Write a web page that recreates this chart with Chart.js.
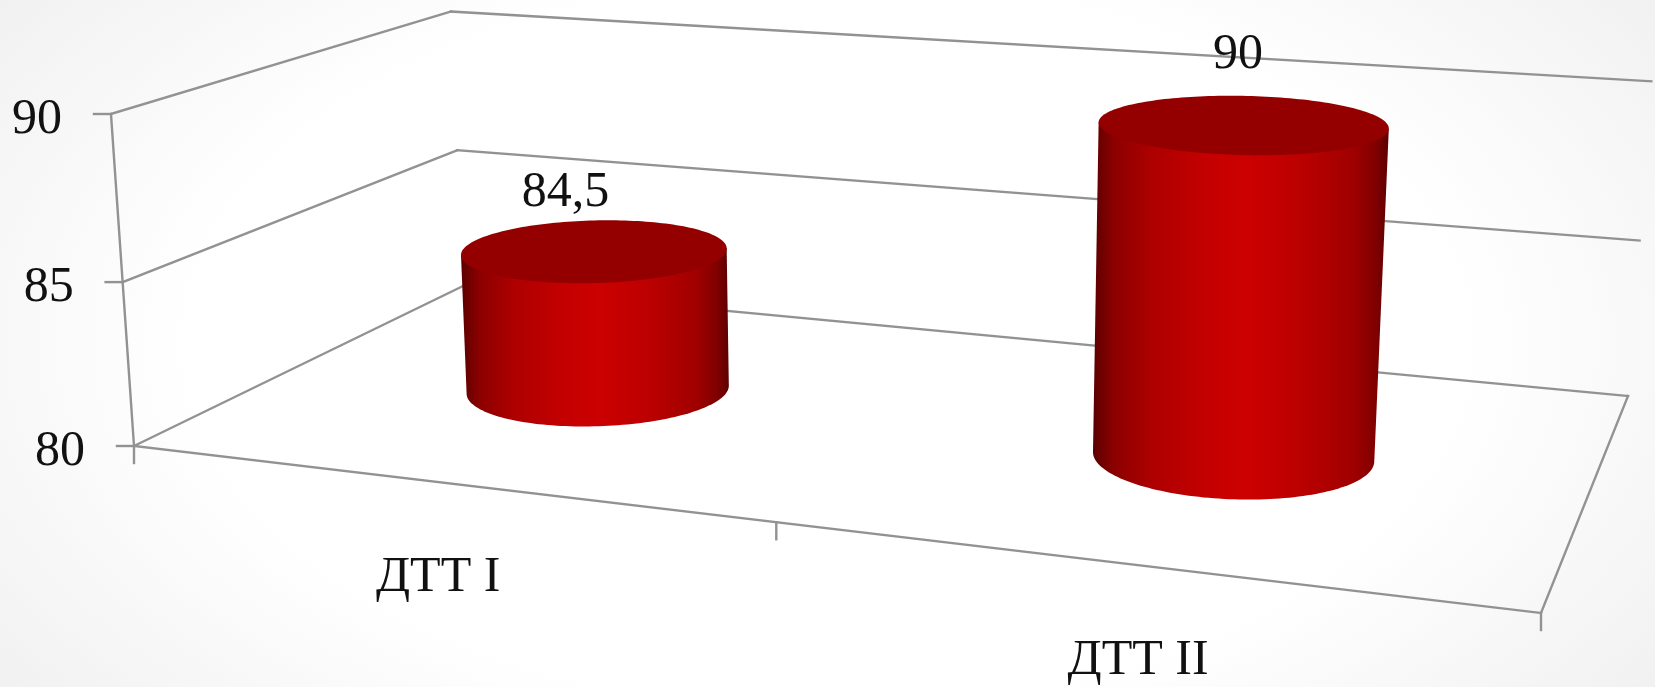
<!DOCTYPE html>
<html>
<head>
<meta charset="utf-8">
<title>ДТТ</title>
<style>
  html, body { margin: 0; padding: 0; }
  body {
    width: 1655px;
    height: 687px;
    overflow: hidden;
    background: radial-gradient(ellipse 62% 85% at 50% 50%, #ffffff 62%, #f1f1f1 100%);
  }
  #wrap { position: relative; width: 1655px; height: 687px; }
</style>
</head>
<body>
<div id="wrap"><canvas id="chart"></canvas></div>
<script src="https://cdn.jsdelivr.net/npm/chart.js@4"></script>
<script>
const categories = ['ДТТ I', 'ДТТ II'];
const values = [84.5, 90];
const yTicks = [80, 85, 90];

const LINE = '#929292';
const FONT = "50px 'Liberation Serif', serif";

// floor of the 3D box in canvas pixels: front-left, front-right, back-right, back-left
const floor = [[134, 446], [1541, 613], [1628, 396], [463, 286]];
// how a unit of height moves a homogeneous point, plus small corrections for the right side
const lift = [-25.8, -334.85, -0.025];
const farSkew = [9, -3];
const nearSkew = [4, 10];

function floorMatrix(q) {
  const [[x0, y0], [x1, y1], [x2, y2], [x3, y3]] = q;
  const sx = x0 - x1 + x2 - x3, sy = y0 - y1 + y2 - y3;
  const dx1 = x1 - x2, dx2 = x3 - x2, dy1 = y1 - y2, dy2 = y3 - y2;
  const den = dx1 * dy2 - dx2 * dy1;
  const g = (sx * dy2 - dx2 * sy) / den;
  const h = (dx1 * sy - sx * dy1) / den;
  return {
    a: x1 - x0 + g * x1, b: x3 - x0 + h * x3, c: x0,
    d: y1 - y0 + g * y1, e: y3 - y0 + h * y3, f: y0,
    g, h,
  };
}
const M = floorMatrix(floor);

// u along the categories, v into the depth, z up the value axis (all 0..1)
function project(u, v, z) {
  const X = M.a * u + M.b * v + M.c + lift[0] * z;
  const Y = M.d * u + M.e * v + M.f + lift[1] * z;
  const W = M.g * u + M.h * v + 1 + lift[2] * z;
  const far = z * u * v, near = z * u * (1 - v);
  return [
    X / W + farSkew[0] * far + nearSkew[0] * near,
    Y / W + farSkew[1] * far + nearSkew[1] * near,
  ];
}

function line(ctx, a, b) {
  ctx.beginPath();
  ctx.moveTo(a[0], a[1]);
  ctx.lineTo(b[0], b[1]);
  ctx.stroke();
}

const box3d = {
  id: 'box3d',
  beforeDatasetsDraw(chart) {
    const { ctx, scales: { x, y }, chartArea: area } = chart;
    ctx.save();
    ctx.strokeStyle = LINE;
    ctx.lineWidth = 2.4;
    ctx.lineCap = 'square';

    // walls and value ticks
    y.ticks.forEach(t => {
      const z = (area.bottom - y.getPixelForValue(t.value)) / area.height;
      const front = project(0, 0, z), back = project(0, 1, z), far = project(1, 1, z);
      line(ctx, front, back);
      line(ctx, back, far);
      line(ctx, [front[0] - 17, front[1]], front);
      ctx.fillStyle = '#111';
      ctx.font = FONT;
      ctx.textAlign = 'right';
      ctx.textBaseline = 'alphabetic';
      ctx.fillText(String(t.value), front[0] - 49, front[1] + 19);
    });
    line(ctx, project(0, 0, 0), project(0, 0, 1));

    // floor edges and category ticks
    line(ctx, project(0, 0, 0), project(1, 0, 0));
    line(ctx, project(1, 0, 0), project(1, 1, 0));
    [0, 0.4975, 1].forEach(u => {
      const p = project(u, 0, 0);
      line(ctx, p, [p[0], p[1] + 17]);
    });

    x.ticks.forEach((t, i) => {
      const u = (x.getPixelForTick(i) - area.left) / area.width;
      const p = project(u, 0, 0);
      ctx.fillStyle = '#111';
      ctx.font = FONT;
      ctx.textAlign = 'center';
      ctx.textBaseline = 'alphabetic';
      ctx.fillText(categories[t.value], p[0] - 6, p[1] + 108);
    });
    ctx.restore();
  },
  afterDatasetsDraw(chart, args, opts) {
    const { ctx, chartArea: area } = chart;
    const meta = chart.getDatasetMeta(0);
    meta.data.forEach((bar, i) => {
      const u = (bar.x - area.left) / area.width - 0.001;
      const z = (area.bottom - bar.y) / area.height;
      const ru = bar.width / area.width / 2;
      drawCylinder(ctx, u, 0.5, ru, ru * opts.depth, z);

      const top = project(u, 0.5, z);
      const nudge = opts.labelNudge[i];
      ctx.save();
      ctx.fillStyle = '#111';
      ctx.font = FONT;
      ctx.textAlign = 'center';
      ctx.textBaseline = 'alphabetic';
      ctx.fillText(String(values[i]).replace('.', ','), top[0] + nudge[0], top[1] + nudge[1]);
      ctx.restore();
    });
  },
};

function ring(u, v, ru, rv, z) {
  const pts = [];
  for (let i = 0; i < 180; i++) {
    const t = i / 180 * Math.PI * 2;
    pts.push(project(u + ru * Math.cos(t), v + rv * Math.sin(t), z));
  }
  return pts;
}

function drawCylinder(ctx, u, v, ru, rv, z) {
  const top = ring(u, v, ru, rv, z);
  const bottom = ring(u, v, ru, rv, 0);
  const edge = pts => {
    let min = 0, max = 0;
    pts.forEach((p, i) => {
      if (p[0] < pts[min][0]) min = i;
      if (p[0] > pts[max][0]) max = i;
    });
    return [min, max];
  };
  const [tl, tr] = edge(top);
  const [bl, br] = edge(bottom);

  const left = Math.min(top[tl][0], bottom[bl][0]);
  const right = Math.max(top[tr][0], bottom[br][0]);
  const grad = ctx.createLinearGradient(left, 0, right, 0);
  grad.addColorStop(0, '#5c0000');
  grad.addColorStop(0.07, '#8c0000');
  grad.addColorStop(0.2, '#ae0000');
  grad.addColorStop(0.38, '#c40000');
  grad.addColorStop(0.52, '#cc0000');
  grad.addColorStop(0.7, '#bc0000');
  grad.addColorStop(0.88, '#a00000');
  grad.addColorStop(0.96, '#7e0000');
  grad.addColorStop(1, '#5c0000');

  ctx.save();
  ctx.fillStyle = grad;
  ctx.beginPath();
  ctx.moveTo(top[tl][0], top[tl][1]);
  ctx.lineTo(bottom[bl][0], bottom[bl][1]);
  for (let i = bl; i !== br; i = (i + 1) % bottom.length) ctx.lineTo(bottom[i][0], bottom[i][1]);
  ctx.lineTo(bottom[br][0], bottom[br][1]);
  ctx.lineTo(top[tr][0], top[tr][1]);
  ctx.closePath();
  ctx.fill();

  ctx.fillStyle = '#940000';
  ctx.beginPath();
  top.forEach((p, i) => (i ? ctx.lineTo(p[0], p[1]) : ctx.moveTo(p[0], p[1])));
  ctx.closePath();
  ctx.fill();
  ctx.restore();
}

new Chart(document.getElementById('chart'), {
  type: 'bar',
  data: {
    labels: categories,
    datasets: [{
      data: values,
      backgroundColor: 'transparent',
      borderWidth: 0,
      barPercentage: 0.4,
      categoryPercentage: 1,
    }],
  },
  options: {
    responsive: true,
    maintainAspectRatio: false,
    animation: false,
    layout: { padding: 0 },
    plugins: {
      legend: { display: false },
      tooltip: { enabled: false },
      box3d: { depth: 2.04, labelNudge: [[-29, -44], [-5, -56]] },
    },
    scales: {
      x: { display: false },
      y: {
        display: false,
        min: 80,
        max: 90,
        afterBuildTicks: s => { s.ticks = yTicks.map(value => ({ value })); },
      },
    },
  },
  plugins: [box3d],
});
</script>
</body>
</html>
